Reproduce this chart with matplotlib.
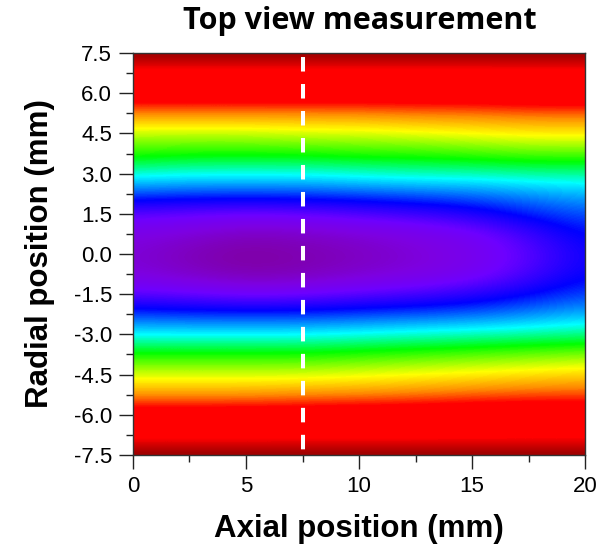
import numpy as np
import matplotlib
matplotlib.use("Agg")
import matplotlib.pyplot as plt
from matplotlib.colors import LinearSegmentedColormap
from matplotlib.ticker import MultipleLocator

# axial positions (mm) of the columns, radial positions (mm) of the rows (top to bottom)
axial = [0, 2.5, 5, 7.5, 10, 12.5, 15, 17.5, 20]
radial = [7.5, 6.75, 6.0, 5.25, 4.5, 3.75, 3.0, 2.25, 1.5, 0.75, 0.0,
          -0.75, -1.5, -2.25, -3.0, -3.75, -4.5, -5.25, -6.0, -6.75, -7.5]

# normalised signal, one row per radial position
signal = [
    [1.00, 1.00, 1.00, 1.00, 1.00, 1.00, 1.00, 1.00, 1.00],
    [0.90, 0.90, 0.90, 0.90, 0.90, 0.90, 0.90, 0.90, 0.90],
    [0.83, 0.83, 0.83, 0.83, 0.83, 0.83, 0.83, 0.84, 0.84],
    [0.70, 0.70, 0.70, 0.70, 0.70, 0.71, 0.71, 0.72, 0.72],
    [0.59, 0.59, 0.59, 0.60, 0.60, 0.61, 0.62, 0.63, 0.63],
    [0.52, 0.51, 0.51, 0.51, 0.52, 0.52, 0.53, 0.54, 0.54],
    [0.42, 0.41, 0.41, 0.41, 0.42, 0.43, 0.43, 0.44, 0.44],
    [0.30, 0.29, 0.29, 0.29, 0.30, 0.31, 0.32, 0.34, 0.36],
    [0.16, 0.15, 0.14, 0.15, 0.17, 0.19, 0.22, 0.27, 0.30],
    [0.09, 0.07, 0.04, 0.05, 0.07, 0.09, 0.12, 0.19, 0.26],
    [0.07, 0.03, 0.00, 0.02, 0.04, 0.07, 0.10, 0.16, 0.24],
    [0.08, 0.05, 0.02, 0.03, 0.06, 0.08, 0.11, 0.18, 0.25],
    [0.16, 0.15, 0.13, 0.14, 0.16, 0.18, 0.21, 0.25, 0.29],
    [0.29, 0.28, 0.28, 0.28, 0.29, 0.30, 0.31, 0.33, 0.36],
    [0.40, 0.40, 0.40, 0.40, 0.41, 0.42, 0.43, 0.44, 0.45],
    [0.51, 0.51, 0.51, 0.51, 0.52, 0.53, 0.54, 0.55, 0.56],
    [0.60, 0.60, 0.60, 0.60, 0.61, 0.62, 0.63, 0.64, 0.65],
    [0.69, 0.69, 0.69, 0.70, 0.70, 0.71, 0.72, 0.73, 0.73],
    [0.82, 0.82, 0.82, 0.82, 0.83, 0.83, 0.84, 0.84, 0.84],
    [0.90, 0.90, 0.90, 0.90, 0.90, 0.90, 0.90, 0.90, 0.90],
    [1.00, 1.00, 1.00, 1.00, 1.00, 1.00, 1.00, 1.00, 1.00],
]

x_ticks = [0, 5, 10, 15, 20]
y_ticks = [-7.5, -6.0, -4.5, -3.0, -1.5, 0.0, 1.5, 3.0, 4.5, 6.0, 7.5]
marker_x = 7.5

# rainbow map like the original software
nodes = [(0.00, (128, 0, 160)), (0.08, (125, 0, 225)), (0.14, (110, 0, 255)),
         (0.25, (0, 0, 255)), (0.40, (0, 255, 255)), (0.50, (0, 255, 0)),
         (0.62, (255, 255, 0)), (0.70, (255, 140, 0)), (0.77, (255, 0, 0)),
         (0.92, (255, 0, 0)), (1.00, (135, 0, 0))]
cmap = LinearSegmentedColormap.from_list(
    "rainbow_dark", [(p, tuple(c / 255 for c in rgb)) for p, rgb in nodes])

fig = plt.figure(figsize=(5.98, 5.47), dpi=100)
ax = fig.add_axes([0.2224, 0.1682, 0.7559, 0.7349])

dx = axial[1] - axial[0]
dy = radial[0] - radial[1]
ax.imshow(np.array(signal), cmap=cmap, vmin=0, vmax=1, aspect="auto",
          interpolation="bicubic", origin="upper",
          extent=[axial[0] - dx / 2, axial[-1] + dx / 2,
                  radial[-1] - dy / 2, radial[0] + dy / 2])

ax.plot([marker_x, marker_x], [y_ticks[-1], y_ticks[0]], color="white",
        lw=2.9, linestyle=(5.7, (3.6, 3.1)), solid_capstyle="butt")

ax.set_xlim(0, 20)
ax.set_ylim(-7.5, 7.5)
ax.set_xticks(x_ticks)
ax.set_yticks(y_ticks)
ax.set_yticklabels([f"{v:.1f}" for v in y_ticks])
ax.xaxis.set_minor_locator(MultipleLocator(2.5))
ax.yaxis.set_minor_locator(MultipleLocator(0.75))
ax.tick_params(which="major", direction="out", length=10, width=1, color="#222222",
               labelsize=16, pad=5)
ax.tick_params(which="minor", direction="out", length=5, width=1, color="#222222")
for lab in ax.get_xticklabels() + ax.get_yticklabels():
    lab.set_family("Liberation Sans")
for s in ax.spines.values():
    s.set_color("#333333")
    s.set_linewidth(1)

ax.set_xlabel("Axial position (mm)", family="Liberation Sans", fontweight="bold",
              fontsize=22.5)
ax.set_ylabel("Radial position (mm)", family="Liberation Sans", fontweight="bold",
              fontsize=22.5)
ax.xaxis.set_label_coords(0.5, -0.147)
ax.yaxis.set_label_coords(-0.172, 0.5)

fig.text(0.602, 0.962, "Top view measurement", ha="center", va="center",
         family="Open Sans", fontweight="bold", fontsize=22)

fig.savefig("out.png", dpi=100)
